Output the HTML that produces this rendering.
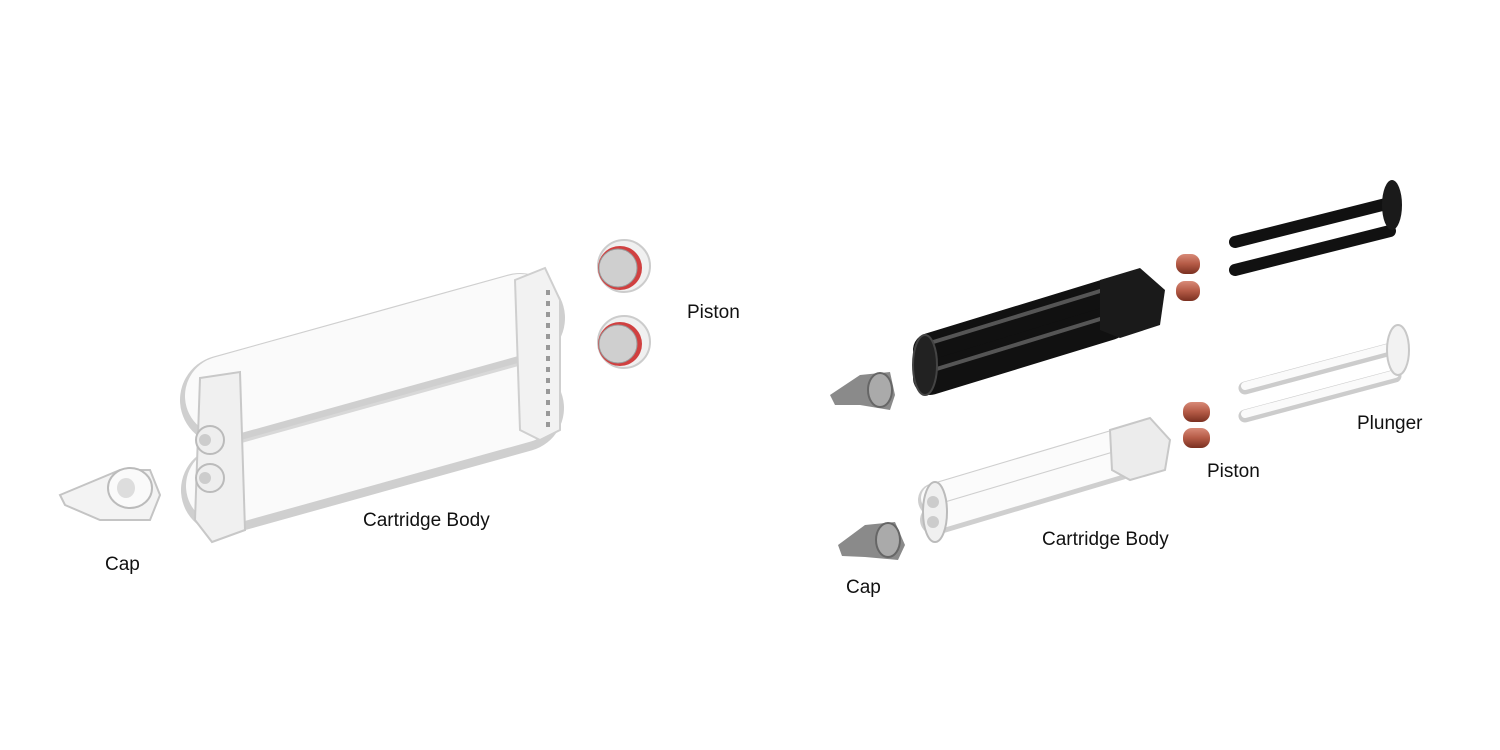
<!DOCTYPE html>
<html><head><meta charset="utf-8"><style>
html,body{margin:0;padding:0;background:#fff;}
svg{display:block}
text{font-family:"Liberation Sans",sans-serif;font-size:19px;fill:#111;}
</style></head><body>
<svg width="1500" height="750" viewBox="0 0 1500 750" xmlns="http://www.w3.org/2000/svg">
<defs>
<linearGradient id="wc" x1="0" y1="0" x2="0" y2="1">
<stop offset="0" stop-color="#e6e6e6"/><stop offset="0.3" stop-color="#ffffff"/><stop offset="0.8" stop-color="#f4f4f4"/><stop offset="1" stop-color="#c8c8c8"/>
</linearGradient>
<linearGradient id="cu" x1="0" y1="0" x2="0" y2="1">
<stop offset="0" stop-color="#d88a78"/><stop offset="0.5" stop-color="#b45a46"/><stop offset="1" stop-color="#7a3020"/>
</linearGradient>
</defs>

<!-- LEFT: Cartridge body -->
<g>
<line x1="225" y1="400" x2="520" y2="318" stroke="#cfcfcf" stroke-width="90" stroke-linecap="round"/>
<line x1="225" y1="396" x2="520" y2="314" stroke="#fafafa" stroke-width="80" stroke-linecap="round"/>
<line x1="225" y1="490" x2="520" y2="408" stroke="#cfcfcf" stroke-width="88" stroke-linecap="round"/>
<line x1="225" y1="486" x2="520" y2="404" stroke="#fafafa" stroke-width="78" stroke-linecap="round"/>
<line x1="225" y1="446" x2="520" y2="364" stroke="#d8d8d8" stroke-width="3"/>
<!-- rear flange -->
<polygon points="515,280 545,268 560,300 560,430 540,440 520,430" fill="#f2f2f2" stroke="#cfcfcf" stroke-width="2"/>
<line x1="548" y1="290" x2="548" y2="430" stroke="#999" stroke-width="4" stroke-dasharray="5,6"/>
<!-- front flange -->
<polygon points="200,378 240,372 245,530 212,542 195,520" fill="#f0f0f0" stroke="#c8c8c8" stroke-width="2"/>
<circle cx="210" cy="440" r="14" fill="#eee" stroke="#bbb" stroke-width="2"/>
<circle cx="210" cy="478" r="14" fill="#eee" stroke="#bbb" stroke-width="2"/>
<circle cx="205" cy="440" r="6" fill="#ccc"/>
<circle cx="205" cy="478" r="6" fill="#ccc"/>
</g>
<!-- Cap left -->
<g>
<polygon points="60,495 120,470 150,470 160,495 150,520 100,520 65,505" fill="#f3f3f3" stroke="#c4c4c4" stroke-width="2"/>
<ellipse cx="130" cy="488" rx="22" ry="20" fill="#fafafa" stroke="#bbb" stroke-width="2"/>
<ellipse cx="126" cy="488" rx="9" ry="10" fill="#ddd"/>
</g>
<!-- Pistons left -->
<g>
<circle cx="624" cy="266" r="26" fill="#f0f0f0" stroke="#ccc" stroke-width="2"/>
<circle cx="620" cy="268" r="22" fill="#d04040"/>
<circle cx="618" cy="268" r="19" fill="#cfcfcf" stroke="#999" stroke-width="1"/>
<circle cx="624" cy="342" r="26" fill="#f0f0f0" stroke="#ccc" stroke-width="2"/>
<circle cx="620" cy="344" r="22" fill="#d04040"/>
<circle cx="618" cy="344" r="19" fill="#cfcfcf" stroke="#999" stroke-width="1"/>
</g>
<text x="687" y="318">Piston</text>
<text x="363" y="526">Cartridge Body</text>
<text x="105" y="570">Cap</text>

<!-- RIGHT: black cartridge -->
<g>
<line x1="930" y1="350" x2="1110" y2="295" stroke="#111" stroke-width="34" stroke-linecap="round"/>
<line x1="930" y1="378" x2="1110" y2="323" stroke="#111" stroke-width="34" stroke-linecap="round"/>
<line x1="930" y1="343" x2="1110" y2="288" stroke="#555" stroke-width="4"/>
<line x1="930" y1="371" x2="1110" y2="316" stroke="#555" stroke-width="4"/>
<polygon points="1100,280 1140,268 1165,290 1160,325 1120,338 1100,330" fill="#1a1a1a"/>
<ellipse cx="925" cy="365" rx="12" ry="30" fill="#222" stroke="#444" stroke-width="2"/>
</g>
<!-- black plunger -->
<g>
<line x1="1235" y1="242" x2="1390" y2="203" stroke="#111" stroke-width="12" stroke-linecap="round"/>
<line x1="1235" y1="270" x2="1390" y2="231" stroke="#111" stroke-width="12" stroke-linecap="round"/>
<ellipse cx="1392" cy="205" rx="10" ry="25" fill="#1a1a1a"/>
</g>
<!-- copper pistons top -->
<rect x="1176" y="254" width="24" height="20" rx="9" fill="url(#cu)"/>
<rect x="1176" y="281" width="24" height="20" rx="9" fill="url(#cu)"/>
<!-- gray cap top -->
<g>
<polygon points="830,395 860,375 890,372 895,395 890,410 860,405 835,405" fill="#8a8a8a"/>
<ellipse cx="880" cy="390" rx="12" ry="17" fill="#aaa" stroke="#666" stroke-width="2"/>
</g>
<!-- white plunger -->
<g>
<line x1="1245" y1="388" x2="1395" y2="348" stroke="#ccc" stroke-width="13" stroke-linecap="round"/>
<line x1="1245" y1="386" x2="1395" y2="346" stroke="#fafafa" stroke-width="8" stroke-linecap="round"/>
<line x1="1245" y1="416" x2="1395" y2="376" stroke="#ccc" stroke-width="13" stroke-linecap="round"/>
<line x1="1245" y1="414" x2="1395" y2="374" stroke="#fafafa" stroke-width="8" stroke-linecap="round"/>
<ellipse cx="1398" cy="350" rx="11" ry="25" fill="#f2f2f2" stroke="#c8c8c8" stroke-width="2"/>
</g>
<!-- copper pistons bottom -->
<rect x="1183" y="402" width="27" height="20" rx="9" fill="url(#cu)"/>
<rect x="1183" y="428" width="27" height="20" rx="9" fill="url(#cu)"/>
<!-- white cartridge -->
<g>
<line x1="935" y1="500" x2="1120" y2="445" stroke="#cfcfcf" stroke-width="34" stroke-linecap="round"/>
<line x1="935" y1="498" x2="1120" y2="443" stroke="#fbfbfb" stroke-width="28" stroke-linecap="round"/>
<line x1="935" y1="520" x2="1120" y2="465" stroke="#cfcfcf" stroke-width="30" stroke-linecap="round"/>
<line x1="935" y1="518" x2="1120" y2="463" stroke="#fbfbfb" stroke-width="24" stroke-linecap="round"/>
<polygon points="1110,430 1150,418 1170,440 1165,470 1130,480 1112,470" fill="#ececec" stroke="#c8c8c8" stroke-width="2"/>
<ellipse cx="935" cy="512" rx="12" ry="30" fill="#f0f0f0" stroke="#bbb" stroke-width="2"/>
<circle cx="933" cy="502" r="6" fill="#ccc"/><circle cx="933" cy="522" r="6" fill="#ccc"/>
</g>
<!-- gray cap bottom -->
<g>
<polygon points="838,545 865,525 895,522 905,545 898,560 865,557 842,556" fill="#8a8a8a"/>
<ellipse cx="888" cy="540" rx="12" ry="17" fill="#aaa" stroke="#666" stroke-width="2"/>
</g>
<text x="1357" y="429">Plunger</text>
<text x="1207" y="477">Piston</text>
<text x="1042" y="545">Cartridge Body</text>
<text x="846" y="593">Cap</text>
</svg>
</body></html>
